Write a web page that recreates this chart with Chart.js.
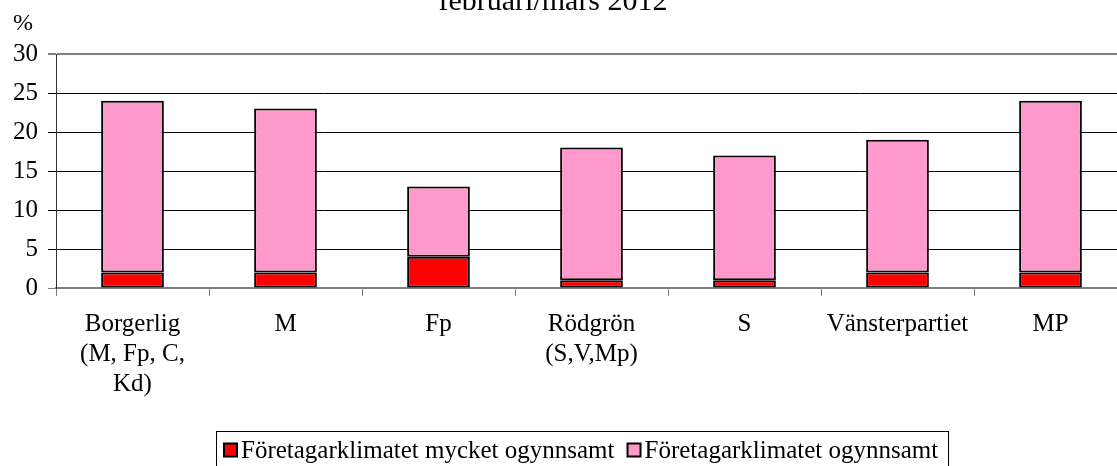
<!DOCTYPE html>
<html>
<head>
<meta charset="utf-8">
<script src="https://cdn.jsdelivr.net/npm/chart.js@4/dist/chart.umd.min.js"></script>
<style>
  html, body { margin: 0; padding: 0; background: #fff; overflow: hidden; }
  #wrap { width: 1127px; height: 466px; }
</style>
</head>
<body>
<div id="wrap"><canvas id="chart"></canvas></div>
<script>
const categories = [
    ['Borgerlig', '(M, Fp, C,', 'Kd)'],
    'M',
    'Fp',
    ['Rödgrön', '(S,V,Mp)'],
    'S',
    'Vänsterpartiet',
    'MP'
];
const mycketOgynnsamt = [2, 2, 4, 1, 1, 2, 2];
const ogynnsamt = [22, 21, 9, 17, 16, 17, 22];
const yTicks = [0, 5, 10, 15, 20, 25, 30];

const serif = "'Liberation Serif', 'Times New Roman', serif";

// titel och %-etikett (titeln är avskuren upptill i originalet)
const extraText = {
    id: 'extraText',
    afterDraw(chart) {
        const c = chart.ctx;
        c.save();
        c.fillStyle = '#000';
        c.textAlign = 'center';
        c.textBaseline = 'alphabetic';
        c.font = '30px ' + serif;
        c.fillText('februari/mars 2012', 553, 10);
        c.font = '24px ' + serif;
        c.textBaseline = 'middle';
        c.fillText('%', 23, 24);
        c.restore();
    }
};

// egen legend med ram, som i Excel
const boxLegend = {
    id: 'boxLegend',
    afterDraw(chart) {
        const c = chart.ctx;
        const sets = chart.data.datasets;
        const box = 13, gap = 4, itemGap = 13, padL = 8, padR = 10;
        c.save();
        c.font = '25px ' + serif;
        const widths = sets.map(s => c.measureText(s.label).width);
        let total = padL + padR;
        widths.forEach((w, i) => { total += box + gap + w + (i ? itemGap : 0); });
        let x = Math.round(582 - total / 2);
        const top = 431, midY = 450;
        c.strokeStyle = '#000';
        c.lineWidth = 1;
        c.strokeRect(x + 0.5, top + 0.5, Math.round(total), 40);
        x += padL;
        c.textBaseline = 'middle';
        c.textAlign = 'left';
        sets.forEach((s, i) => {
            if (i) x += itemGap;
            c.fillStyle = s.backgroundColor;
            c.fillRect(x, midY - box / 2, box, box);
            c.lineWidth = 2;
            c.strokeStyle = '#000';
            c.strokeRect(x, midY - box / 2, box, box);
            x += box + gap;
            c.fillStyle = '#000';
            c.fillText(s.label, x, midY + 1);
            x += widths[i];
        });
        c.restore();
    }
};

new Chart(document.getElementById('chart'), {
    type: 'bar',
    data: {
        labels: categories,
        datasets: [
            {
                label: 'Företagarklimatet mycket ogynnsamt',
                data: mycketOgynnsamt,
                backgroundColor: '#FF0000',
                borderColor: '#000',
                borderWidth: 2,
                borderSkipped: false
            },
            {
                label: 'Företagarklimatet ogynnsamt',
                data: ogynnsamt,
                backgroundColor: '#FF99CC',
                borderColor: '#000',
                borderWidth: 2,
                borderSkipped: false
            }
        ]
    },
    options: {
        responsive: true,
        maintainAspectRatio: false,
        animation: false,
        layout: { padding: { top: 54, left: 0, right: 0, bottom: 0 } },
        datasets: { bar: { categoryPercentage: 1, barPercentage: 0.41 } },
        plugins: {
            title: { display: false },
            tooltip: { enabled: false },
            legend: { display: false }
        },
        scales: {
            x: {
                stacked: true,
                afterFit: (s) => { s.height = 178; },
                grid: {
                    offset: true,
                    drawOnChartArea: false,
                    color: '#808080',
                    tickLength: 8
                },
                border: { color: '#808080', width: 2 },
                ticks: {
                    color: '#000',
                    padding: 13,
                    maxRotation: 0,
                    autoSkip: false,
                    font: { family: serif, size: 25, lineHeight: 1.2 }
                }
            },
            y: {
                stacked: true,
                min: 0,
                max: 30,
                afterFit: (s) => { s.width = 56; },
                afterBuildTicks: (s) => { s.ticks = yTicks.map(v => ({ value: v })); },
                grid: {
                    color: (ctx) => (ctx.tick && (ctx.tick.value === 30 || ctx.tick.value === 0)) ? '#808080' : '#000',
                    lineWidth: (ctx) => (ctx.tick && ctx.tick.value === 30) ? 2 : 1,
                    tickLength: 8
                },
                border: { color: '#333', width: 1 },
                ticks: {
                    color: '#000',
                    padding: 10,
                    font: { family: serif, size: 25 }
                }
            }
        }
    },
    plugins: [extraText, boxLegend]
});
</script>
</body>
</html>
